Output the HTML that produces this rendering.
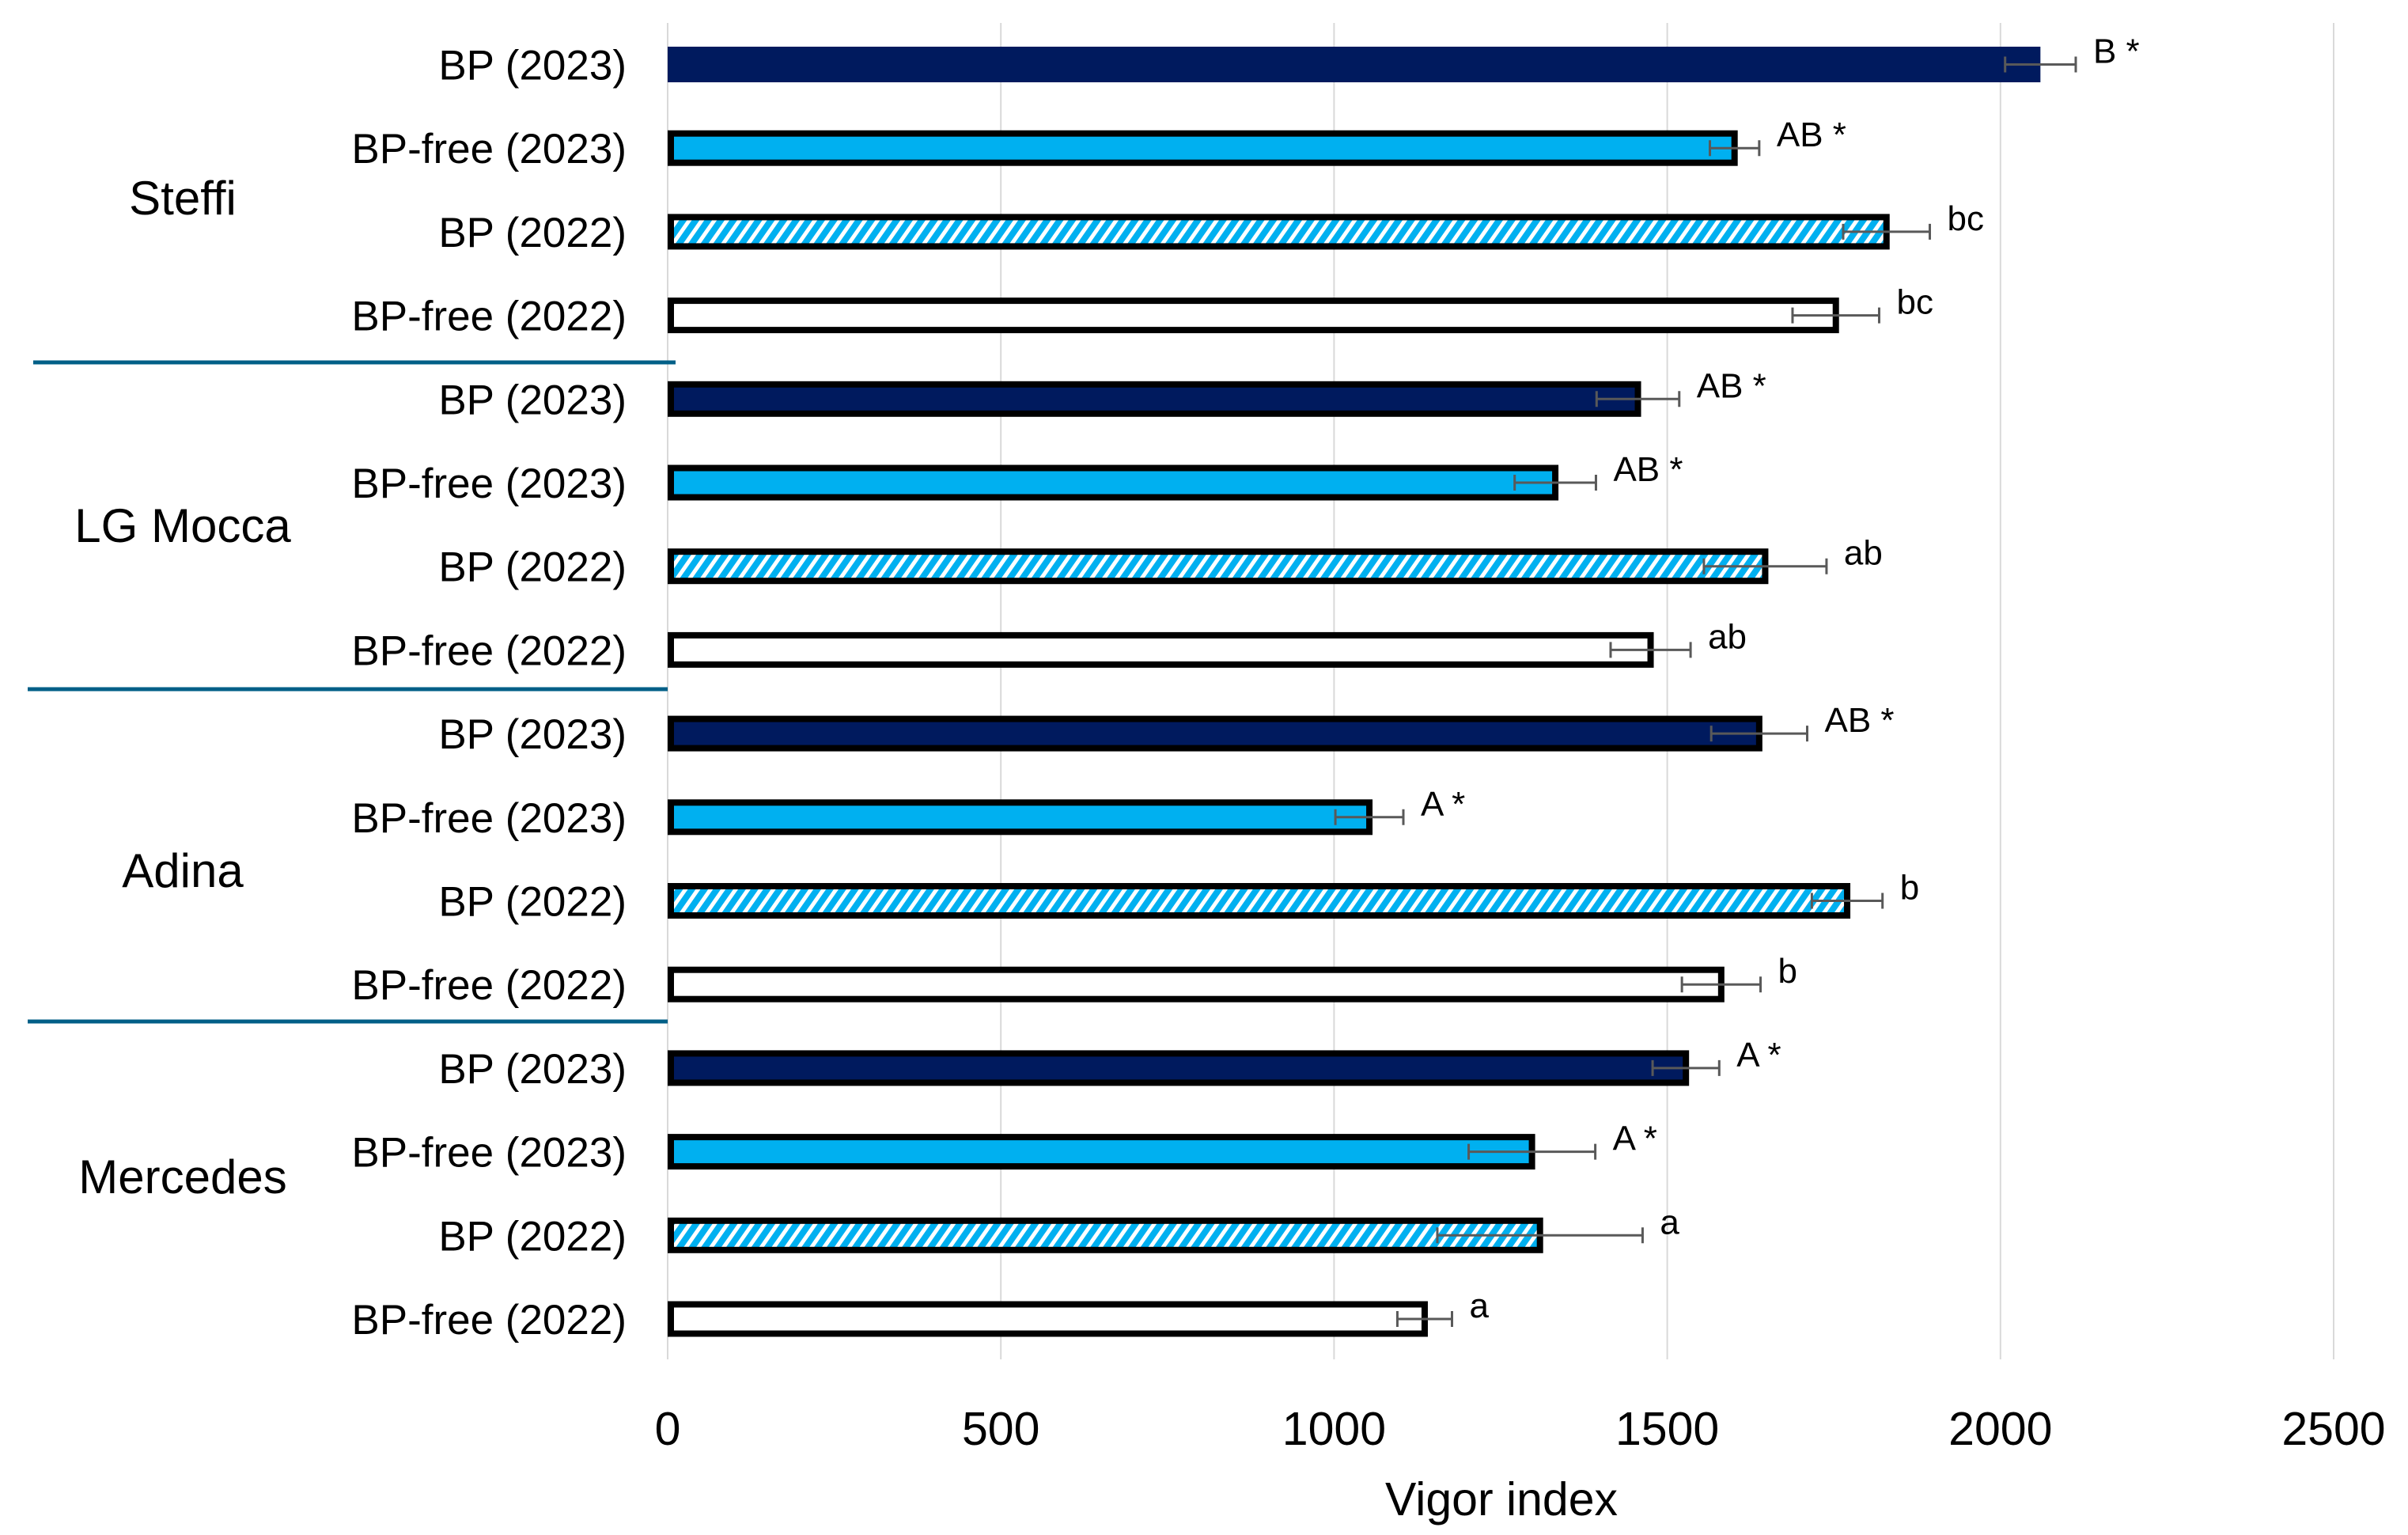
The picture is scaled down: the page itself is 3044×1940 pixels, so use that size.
<!DOCTYPE html>
<html><head><meta charset="utf-8"><style>
html,body{margin:0;padding:0;background:#fff;}
svg{display:block;font-family:"Liberation Sans",sans-serif;}
</style></head><body>
<svg id="chart" width="3044" height="1940" viewBox="0 0 3044 1940" xmlns="http://www.w3.org/2000/svg">
<defs>
<pattern id="hatch" patternUnits="userSpaceOnUse" width="13" height="13" patternTransform="rotate(35)">
<rect width="13" height="13" fill="#00b0f0"/><rect width="5" height="13" fill="#fff"/>
</pattern>
</defs>
<g id="grid"></g>
<g id="plot"></g>
<g id="labels"></g>
</svg>
<script>
const cultivars = ["Steffi","LG Mocca","Adina","Mercedes"];
const treatments = ["BP (2023)","BP-free (2023)","BP (2022)","BP-free (2022)"];
const values = [2060,1601,1829,1753, 1456,1332,1647,1475, 1638,1053,1770,1581, 1528,1297,1309,1136];
const errors = [53,37,65,65, 62,61,92,60, 72,51,53,59, 50,95,154,41];
const letters = ["B","AB","bc","bc","AB","AB","ab","ab","AB","A","b","b","A","A","a","a"];
const stars = [true,true,false,false,true,true,false,false,true,true,false,false,true,true,false,false];
const ticks = [0,500,1000,1500,2000,2500];

const NS="http://www.w3.org/2000/svg";
const x0=844, x1=2950, xmax=2500;
const X=v=>x0+(v/xmax)*(x1-x0);
const rowY=i=>81.5+i*105.7;
const barH=45;
function mk(tag,attrs,parent){const e=document.createElementNS(NS,tag);for(const k in attrs)e.setAttribute(k,attrs[k]);parent.appendChild(e);return e;}
const grid=document.getElementById('grid'),plot=document.getElementById('plot'),lab=document.getElementById('labels');

ticks.forEach(t=>{
  const l=mk('line',{x1:X(t),x2:X(t),y1:29,y2:1718,stroke:'#d9d9d9','stroke-width':2},grid);
  
  
  const tx=mk('text',{x:X(t),y:1826,'font-size':59,'text-anchor':'middle',fill:'#000'},lab);
  tx.textContent=t;
  
  
});
const at=mk('text',{x:1898,y:1915,'font-size':59,'text-anchor':'middle',fill:'#000'},lab);
at.textContent='Vigor index';



const fills=['#001a5e','#00b0f0','url(#hatch)','#fff'];
values.forEach((v,i)=>{
  const t=i%4,y=rowY(i);
  let r;
  if(i===0){
    r=mk('rect',{x:X(0),y:y-barH/2,width:X(v)-X(0),height:barH,fill:fills[t]},plot);
  } else {
    r=mk('rect',{x:X(0)+4,y:y-barH/2+4,width:X(v)-X(0)-4,height:barH-8,fill:fills[t],stroke:'#000','stroke-width':8},plot);
  }
  
  
  const lo=X(v-errors[i]),hi=X(v+errors[i]);
  const eb=mk('path',{d:`M${lo},${y}H${hi}M${lo},${y-10}V${y+10}M${hi},${y-10}V${y+10}`,stroke:'#595959','stroke-width':3,fill:'none'},plot);
  
  
  const lt=mk('text',{x:hi+22,y:y-2,'font-size':44,fill:'#000'},plot);
  lt.textContent=letters[i]+(stars[i]?'  *':'');
  
  
  const yl=mk('text',{x:792,y:y+19,'font-size':53,'text-anchor':'end',fill:'#000'},lab);
  yl.textContent=treatments[t];
  
  
});
const gy=[250,664,1100,1487];
cultivars.forEach((c,g)=>{
  const tx=mk('text',{x:231,y:gy[g]+21,'font-size':60,'text-anchor':'middle',fill:'#000'},lab);
  tx.textContent=c;
  
  
});
[[42,854,458],[35,844,871],[35,844,1291]].forEach(s=>{
  const l=mk('line',{x1:s[0],x2:s[1],y1:s[2],y2:s[2],stroke:'#005f87','stroke-width':5},lab);
  
  
});
</script>
</body></html>
